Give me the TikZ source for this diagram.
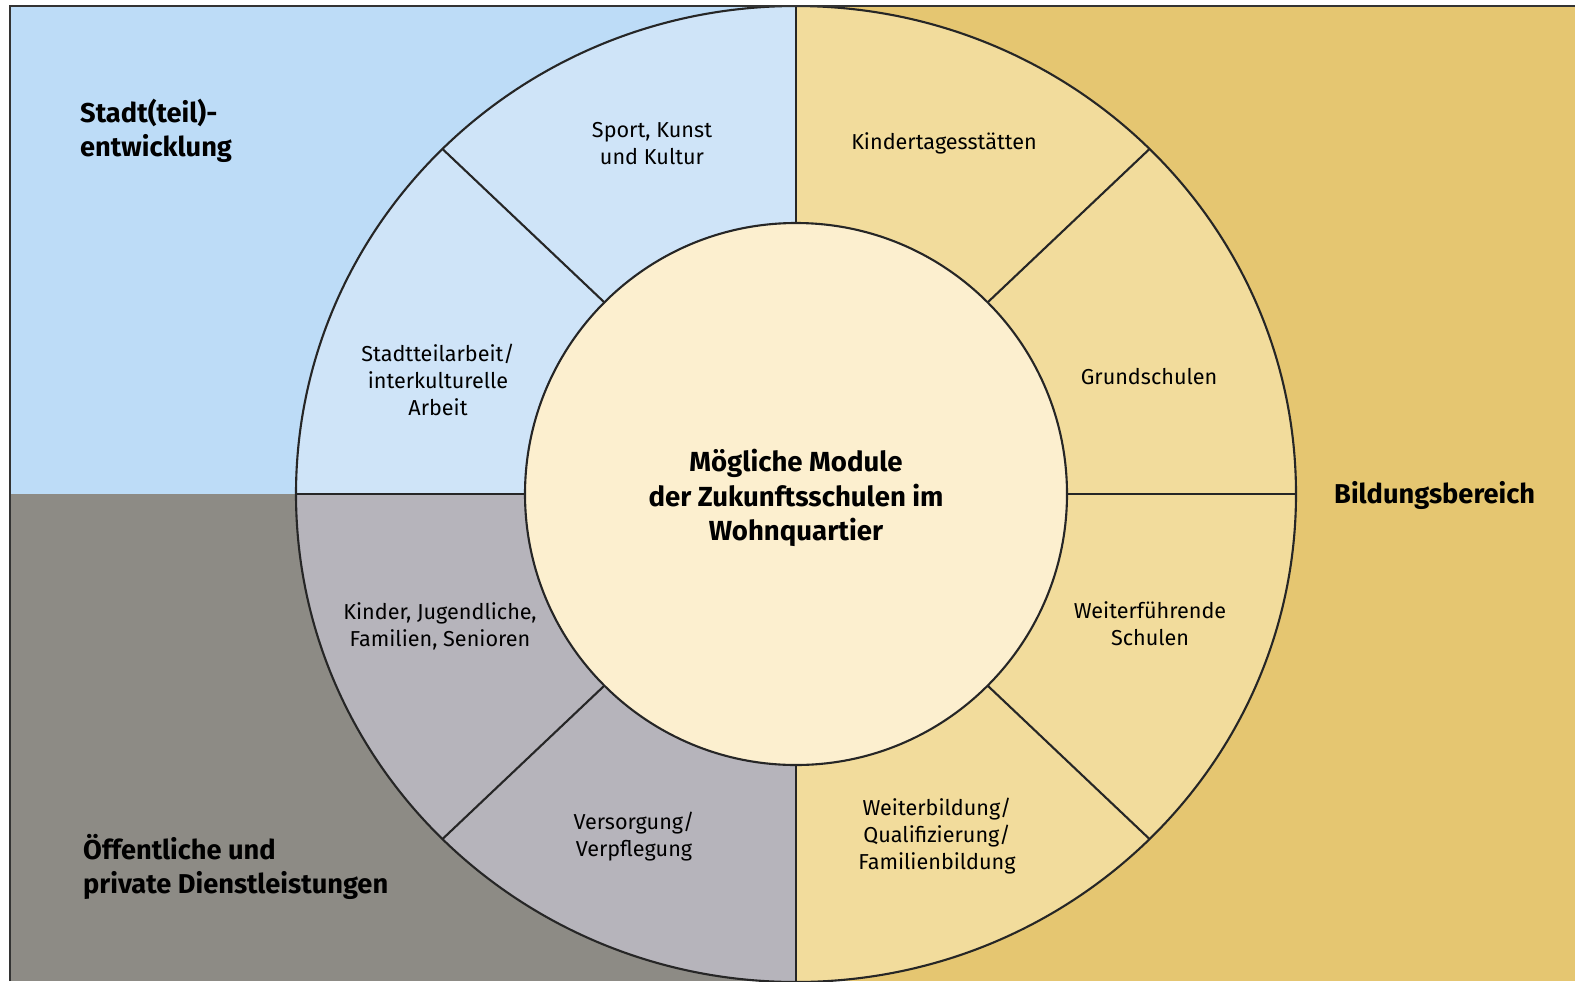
\documentclass[tikz,border=0pt]{standalone}
\usepackage{fontspec}
\setmainfont{Fira Sans}
\definecolor{bgblue}{RGB}{189,220,247}
\definecolor{bggray}{RGB}{141,139,133}
\definecolor{bgtan}{RGB}{229,198,113}
\definecolor{ringblue}{RGB}{207,228,248}
\definecolor{ringgray}{RGB}{182,180,187}
\definecolor{ringtan}{RGB}{242,220,156}
\definecolor{core}{RGB}{252,239,207}
\tikzset{
  modul/.style={align=center,font=\fontsize{12.3}{15.4}\selectfont},
  bereich/.style={align=left,anchor=west,font=\fontsize{15.5}{19.5}\selectfont\bfseries},
  trenn/.style={line width=1.2pt,black!85}
}
\begin{document}
\begin{tikzpicture}[x=0.02cm,y=-0.02cm]
  \useasboundingbox (0,0) rectangle (1575,981);
  \fill[white] (0,0) rectangle (1575,981);
  % Bereiche
  \fill[bgblue] (10,6) rectangle (796,494);
  \fill[bggray] (10,494) rectangle (796,981);
  \fill[bgtan] (796,6) rectangle (1575,981);
  % Ring
  \begin{scope}
    \clip (10,6) rectangle (1575,981);
    \clip (796,494) ellipse [x radius=500,y radius=488];
    \fill[ringblue] (10,6) rectangle (796,494);
    \fill[ringgray] (10,494) rectangle (796,981);
    \fill[ringtan] (796,6) rectangle (1575,981);
  \end{scope}
  \fill[core] (796,494) circle [radius=271];
  \begin{scope}
    \clip (10,6) rectangle (1575,981);
    \draw[trenn] (796,494) ellipse [x radius=500,y radius=488];
    \draw[trenn] (796,494) circle [radius=271];
    \foreach \a in {0,45,...,315}
      \draw[trenn] ({796+271*cos(\a)},{494-271*sin(\a)}) -- ({796+500*cos(\a)},{494-488*sin(\a)});
  \end{scope}
  \draw[line width=0.8pt,black!80] (10,981) -- (10,6) -- (1575,6);
  % Texte
  \node[bereich] (stadt) at (74,131) {Stadt(teil)-\\entwicklung};
  \node[bereich] (dienst) at (77,867) {Öffentliche und\\private Dienstleistungen};
  \node[bereich] (bildung) at (1328,495) {Bildungsbereich};
  \node[align=center,font=\fontsize{15.7}{19.7}\selectfont\bfseries] (mitte) at (796,498)
    {Mögliche Module\\der Zukunftsschulen im\\Wohnquartier};
  \node[modul] (sport) at (652,144) {Sport, Kunst\\und Kultur};
  \node[modul] (kita) at (944,143) {Kindertagesstätten};
  \node[modul] (stteil) at (438,380) {Stadtteilarbeit/\\interkulturelle\\Arbeit};
  \node[modul] (grund) at (1149,377) {Grundschulen};
  \node[modul] (kinder) at (440,626) {Kinder, Jugendliche,\\Familien, Senioren};
  \node[modul] (weiter) at (1150,624) {Weiterführende\\Schulen};
  \node[modul] (versorg) at (634,837) {Versorgung/\\Verpflegung};
  \node[modul] (wbild) at (937,836) {Weiterbildung/\\Qualifizierung/\\Familienbildung};
\end{tikzpicture}
\end{document}
